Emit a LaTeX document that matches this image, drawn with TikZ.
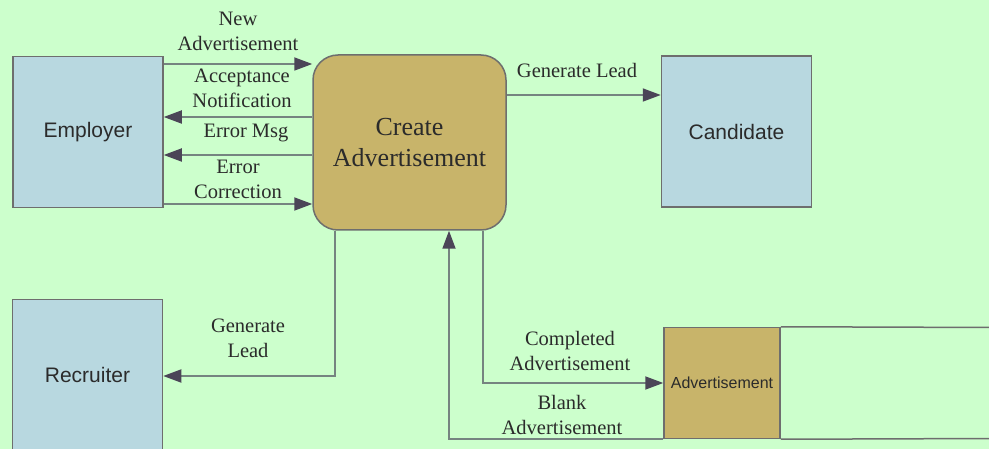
\documentclass[tikz,border=0pt]{standalone}
\usepackage{fontspec}
\setmainfont{Liberation Serif}
\newfontfamily\boxfont{Liberation Sans}
\usetikzlibrary{arrows.meta}
\definecolor{bggreen}{HTML}{CCFFCC}
\definecolor{entblue}{HTML}{B8D8E0}
\definecolor{proctan}{HTML}{C8B46A}
\definecolor{edgegray}{HTML}{6E6E6E}
\definecolor{flowgray}{HTML}{758480}
\definecolor{tipgray}{HTML}{4B4557}
\definecolor{txtgray}{HTML}{2B2B2B}
\begin{document}
\begin{tikzpicture}[x=1pt,y=-1pt,
	entity/.style={draw=edgegray, line width=1.5pt, fill=entblue, text=txtgray,
		minimum width=150pt, minimum height=151pt, font=\boxfont\fontsize{21}{25}\selectfont},
	process/.style={draw=edgegray, line width=1.5pt, fill=proctan, rounded corners=25pt, text=txtgray,
		minimum width=193pt, minimum height=175pt, align=center, font=\fontsize{26}{31}\selectfont},
	store/.style={draw=edgegray, line width=1.5pt, fill=proctan, text=txtgray,
		minimum width=116pt, minimum height=111pt, font=\boxfont\fontsize{16}{19}\selectfont},
	flow/.style={draw=flowgray, line width=1.8pt, -{Triangle[length=18pt,width=13pt,color=tipgray]}},
	lbl/.style={align=center, inner sep=0pt, text=txtgray, font=\fontsize{20.5}{25}\selectfont}
	]
	\useasboundingbox (0,0) rectangle (989,449);
	\clip (0,0) rectangle (989,449);
	\fill[bggreen] (0,0) rectangle (989,449);

	% external entities
	\node[entity] (employer) at (88,132) {Employer};
	\node[entity] (recruiter) at (87.5,375) {Recruiter};
	\node[entity] (candidate) at (736.5,131.5) {Candidate};

	% process and data store
	\node[process] (create) at (409.5,142.5) {Create\\Advertisement};
	\node[store] (advstore) at (722,383) {Advertisement};
	\draw[draw=edgegray, line width=1.5pt] (advstore.north east) -- (995,327.5)
		(advstore.south east) -- (995,438.5);

	% flows
	\draw[flow] (employer.east |- 0,64) -- (create.west |- 0,64);
	\draw[flow] (create.west |- 0,117) -- (employer.east |- 0,117);
	\draw[flow] (create.west |- 0,155) -- (employer.east |- 0,155);
	\draw[flow] (employer.east |- 0,204) -- (create.west |- 0,204);
	\draw[flow] (create.east |- 0,95) -- (candidate.west |- 0,95);
	\draw[flow] (create.south -| 335,0) |- (recruiter.east |- 0,376);
	\draw[flow] (create.south -| 483,0) |- (advstore.west |- 0,383);
	\draw[flow] (advstore.south west) -| (create.south -| 449,0);

	% labels
	\node[lbl] (newadv) at (238,31) {New\\Advertisement};
	\node[lbl] (accept) at (242,88.5) {Acceptance\\Notification};
	\node[lbl] (errmsg) at (246,133) {Error Msg};
	\node[lbl] (errcor) at (238,179.5) {Error\\Correction};
	\node[lbl] (leadcand) at (577,70) {Generate Lead};
	\node[lbl] (leadrec) at (248,338.5) {Generate\\Lead};
	\node[lbl] (compadv) at (570,350.5) {Completed\\Advertisement};
	\node[lbl] (blankadv) at (562,415) {Blank\\Advertisement};
\end{tikzpicture}
\end{document}
